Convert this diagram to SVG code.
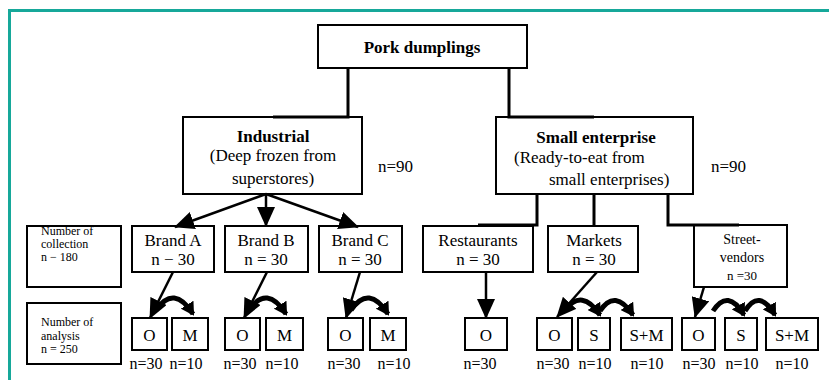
<svg xmlns="http://www.w3.org/2000/svg" width="829" height="380" viewBox="0 0 829 380" font-family="'Liberation Serif', 'DejaVu Serif', serif">
<defs>
<style>
text{font-family:'Liberation Serif','DejaVu Serif',serif;fill:#000}
.box{fill:#fff;stroke:#000;stroke-width:2}
.t{font-size:17px;text-anchor:middle}
.b{font-weight:bold}
.s{font-size:12px}
.n{font-size:16px;text-anchor:middle}
.ln{fill:none;stroke:#000;stroke-width:3}
.ar{fill:none;stroke:#000;stroke-width:2.5;marker-end:url(#big)}
.cv{fill:none;stroke:#000;stroke-width:5;marker-end:url(#small)}
</style>
<marker id="big" markerUnits="userSpaceOnUse" markerWidth="20" markerHeight="18" refX="19" refY="9" orient="auto">
<path d="M0,0 L20,9 L0,18 z" fill="#000"/>
</marker>
<marker id="small" markerUnits="userSpaceOnUse" markerWidth="13" markerHeight="15" refX="11" refY="7.5" orient="auto">
<path d="M0,0 L13,7.5 L0,15 z" fill="#000"/>
</marker>
</defs>
<rect width="829" height="380" fill="#fff"/>
<path d="M9.5,380 V10.5 H829" fill="none" stroke="#16a89a" stroke-width="3"/>

<g id="pork">
<rect class="box" x="318" y="25" width="209" height="43"/>
<text class="t b" x="422" y="53">Pork dumplings</text>
</g>
<g id="industrial">
<rect class="box" x="183" y="117" width="179" height="77"/>
<text class="t b" x="273" y="142">Industrial</text>
<text class="t" x="273" y="161">(Deep frozen from</text>
<text class="t" x="273" y="184">superstores)</text>
</g>
<text class="t" x="378" y="172" style="text-anchor:start">n=90</text>
<g id="small-enterprise">
<rect class="box" x="496" y="117" width="197" height="77"/>
<text class="t b" x="596" y="143">Small enterprise</text>
<text class="t" x="514" y="163" style="text-anchor:start">(Ready-to-eat from</text>
<text class="t" x="549" y="185" style="text-anchor:start">small enterprises)</text>
</g>
<text class="t" x="711" y="172" style="text-anchor:start">n=90</text>

<g id="label-collection">
<rect class="box" x="27" y="226" width="94" height="61"/>
<text class="s" x="41" y="235">Number of</text>
<text class="s" x="41" y="248">collection</text>
<text class="s" x="41" y="261">n − 180</text>
</g>
<g id="label-analysis">
<rect class="box" x="27" y="303" width="94" height="61"/>
<text class="s" x="41" y="326">Number of</text>
<text class="s" x="41" y="340">analysis</text>
<text class="s" x="41" y="353">n = 250</text>
</g>

<g id="brand-a">
<rect class="box" x="132" y="226" width="82" height="46"/>
<text class="t" x="173" y="246">Brand A</text>
<text class="t" x="173" y="265">n − 30</text>
</g>
<g id="brand-b">
<rect class="box" x="225" y="226" width="83" height="46"/>
<text class="t" x="266" y="246">Brand B</text>
<text class="t" x="266" y="265">n = 30</text>
</g>
<g id="brand-c">
<rect class="box" x="319" y="226" width="83" height="46"/>
<text class="t" x="360" y="246">Brand C</text>
<text class="t" x="360" y="265">n = 30</text>
</g>
<g id="restaurants">
<rect class="box" x="423" y="226" width="110" height="46"/>
<text class="t" x="478" y="246">Restaurants</text>
<text class="t" x="478" y="265">n = 30</text>
</g>
<g id="markets">
<rect class="box" x="548" y="226" width="90" height="46"/>
<text class="t" x="594" y="246">Markets</text>
<text class="t" x="594" y="265">n = 30</text>
</g>
<g id="street-vendors">
<rect class="box" x="694" y="225" width="93" height="62"/>
<text class="t" x="742" y="244" style="font-size:14px">Street-</text>
<text class="t" x="742" y="262" style="font-size:14px">vendors</text>
<text class="t" x="742" y="280" style="font-size:13px">n =30</text>
</g>

<g id="a-o"><rect class="box" x="132" y="318" width="35" height="32"/><text class="t" x="149.5" y="341">O</text></g>
<g id="a-m"><rect class="box" x="172" y="318" width="36" height="32"/><text class="t" x="190" y="341">M</text></g>
<g id="b-o"><rect class="box" x="225" y="318" width="35" height="32"/><text class="t" x="242.5" y="341">O</text></g>
<g id="b-m"><rect class="box" x="266" y="318" width="37" height="32"/><text class="t" x="284.5" y="341">M</text></g>
<g id="c-o"><rect class="box" x="328" y="318" width="35" height="32"/><text class="t" x="345.5" y="341">O</text></g>
<g id="c-m"><rect class="box" x="370" y="318" width="36" height="32"/><text class="t" x="388" y="341">M</text></g>
<g id="r-o"><rect class="box" x="465" y="318" width="42" height="32"/><text class="t" x="486" y="341">O</text></g>
<g id="m-o"><rect class="box" x="537" y="318" width="35" height="32"/><text class="t" x="554.5" y="341">O</text></g>
<g id="m-s"><rect class="box" x="578" y="318" width="32" height="32"/><text class="t" x="594" y="341">S</text></g>
<g id="m-sm"><rect class="box" x="621" y="318" width="51" height="32"/><text class="t" x="646.5" y="341">S+M</text></g>
<g id="s-o"><rect class="box" x="682" y="318" width="33" height="32"/><text class="t" x="698.5" y="341">O</text></g>
<g id="s-s"><rect class="box" x="725" y="318" width="32" height="32"/><text class="t" x="741" y="341">S</text></g>
<g id="s-sm"><rect class="box" x="766" y="318" width="52" height="32"/><text class="t" x="792" y="341">S+M</text></g>

<g id="counts">
<text class="n" x="146" y="369">n=30</text>
<text class="n" x="186" y="369">n=10</text>
<text class="n" x="240" y="369">n=30</text>
<text class="n" x="282" y="369">n=10</text>
<text class="n" x="344" y="369">n=30</text>
<text class="n" x="394" y="369">n=10</text>
<text class="n" x="480" y="369">n=30</text>
<text class="n" x="553" y="369">n=30</text>
<text class="n" x="595" y="369">n=10</text>
<text class="n" x="647" y="369">n=10</text>
<text class="n" x="699" y="369">n=30</text>
<text class="n" x="742" y="369">n=10</text>
<text class="n" x="792" y="369">n=10</text>
</g>

<g id="connectors">
<path class="ln" d="M348,68 V117 H273"/>
<path class="ln" d="M509,68 V117 H594"/>
<path class="ln" d="M537,194 V225 H478"/>
<path class="ln" d="M594,194 V226"/>
<path class="ln" d="M668,194 V225 H739"/>
<path class="ar" d="M266,194 L175,227"/>
<path class="ar" d="M266,194 L266,226"/>
<path class="ar" d="M266,194 L358,227"/>
<path class="ar" d="M173,272 L150,318"/>
<path class="ar" d="M267,272 L244,318"/>
<path class="ar" d="M360,272 L346,318"/>
<path class="ar" d="M486,272 L486,318"/>
<path class="ar" d="M597,272 L557,317"/>
<path class="ar" d="M704,287 L695,317"/>
<path class="cv" d="M156,310 Q174,284 193,314"/>
<path class="cv" d="M249,310 Q267,284 286,314"/>
<path class="cv" d="M351,310 Q369,284 388,314"/>
<path class="cv" d="M565,310 Q582,288 600,315"/>
<path class="cv" d="M600,311 Q615,288 633,315"/>
<path class="cv" d="M713,311 Q728,288 744,315"/>
<path class="cv" d="M745,311 Q759,288 775,315"/>
</g>
</svg>
